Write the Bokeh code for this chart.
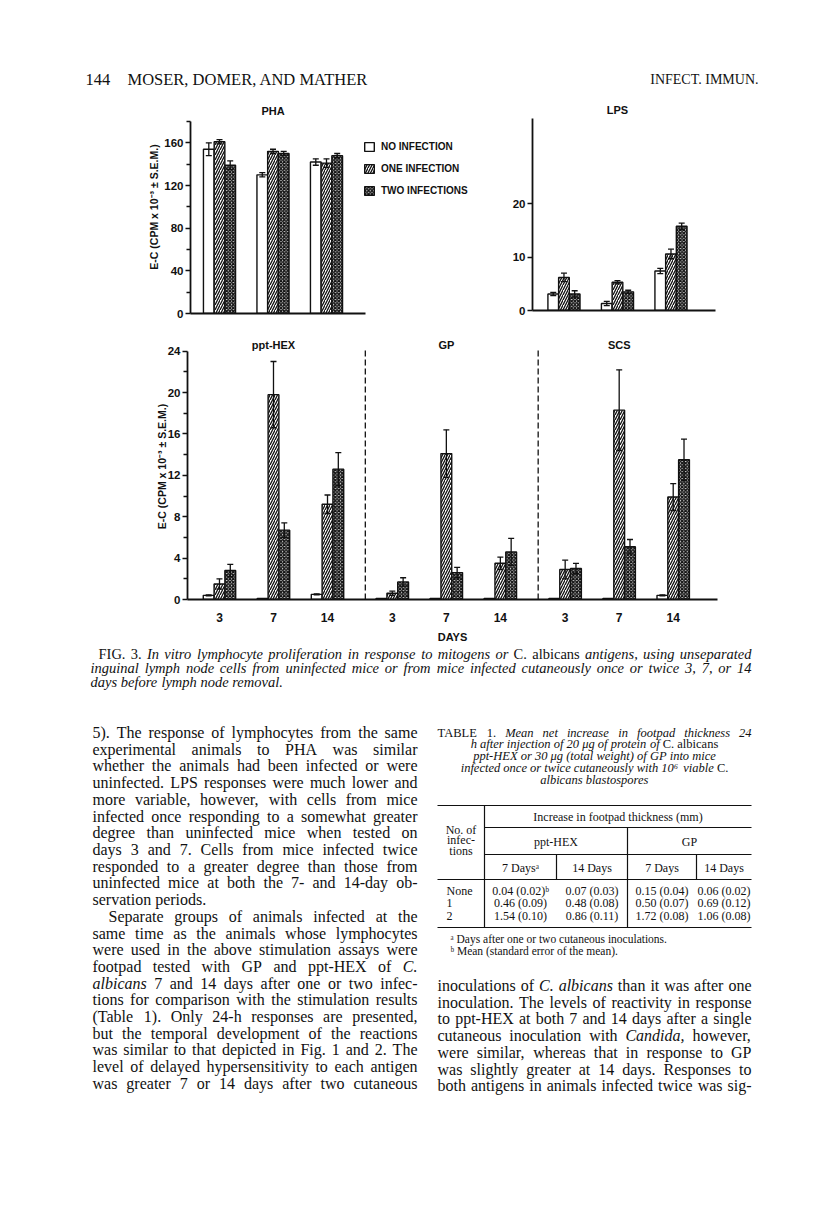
from bokeh.plotting import figure
from bokeh.layouts import column, row
from bokeh.models import (ColumnDataSource, Range1d, FixedTicker, Whisker, TeeHead,
                          Legend, LegendItem, Label)
from bokeh.core.properties import value
from bokeh.embed import file_html
from bokeh.resources import INLINE

# ---------------------------------------------------------------- data
SERIES = ["NO INFECTION", "ONE INFECTION", "TWO INFECTIONS"]
DAYS = ["3", "7", "14"]
ANTIGENS = ["ppt-HEX", "GP", "SCS"]

PHA_NONE = [154, 130, 142]
PHA_NONE_ERR = [6, 2, 3]
PHA_ONE = [161, 152, 141]
PHA_ONE_ERR = [2, 2, 4]
PHA_TWO = [139, 150, 148]
PHA_TWO_ERR = [4, 2, 2]

LPS_NONE = [3.1, 1.3, 7.4]
LPS_NONE_ERR = [0.3, 0.4, 0.5]
LPS_ONE = [6.2, 5.3, 10.6]
LPS_ONE_ERR = [0.8, 0.3, 0.9]
LPS_TWO = [3.1, 3.5, 15.8]
LPS_TWO_ERR = [0.6, 0.3, 0.6]

# antigens: ppt-HEX (3,7,14), GP (3,7,14), SCS (3,7,14)
AG_NONE = [0.4, 0.1, 0.5, 0.1, 0.1, 0.1, 0.1, 0.1, 0.4]
AG_NONE_ERR = [0.05, 0, 0.05, 0, 0, 0, 0, 0, 0.05]
AG_ONE = [1.5, 19.8, 9.2, 0.6, 14.1, 3.5, 2.9, 18.3, 9.9]
AG_ONE_ERR = [0.5, 3.2, 0.9, 0.2, 2.3, 0.6, 0.9, 3.9, 1.3]
AG_TWO = [2.8, 6.7, 12.6, 1.7, 2.6, 4.6, 3.0, 5.1, 13.5]
AG_TWO_ERR = [0.6, 0.7, 1.6, 0.4, 0.5, 1.3, 0.5, 0.7, 2.0]

PHA_YTICKS = [0, 40, 80, 120, 160]
PHA_YMINOR = [20, 60, 100, 140, 180]
PHA_YMAX = 180
LPS_YTICKS = [0, 10, 20]
LPS_YMAX = 36
AG_YTICKS = [0, 4, 8, 12, 16, 20, 24]
AG_YMINOR = [2, 6, 10, 14, 18, 22]
AG_YMAX = 24

YLABEL = "E-C (CPM x 10\u207b\u00b3 \u00b1 S.E.M.)"

HEADER_LEFT_NUM = "144"
HEADER_LEFT = "MOSER, DOMER, AND MATHER"
HEADER_RIGHT = "INFECT. IMMUN."

CAPTION = [
    "_FIG. _3. In vitro lymphocyte proliferation in response to mitogens or _C. _albicans antigens, using unseparated",
    "inguinal lymph node cells from uninfected mice or from mice infected cutaneously once or twice 3, 7, or 14",
    "days before lymph node removal.",
]

LEFT_COL = [
    ("5). The response of lymphocytes from the same", "j"),
    ("experimental animals to PHA was similar", "j"),
    ("whether the animals had been infected or were", "j"),
    ("uninfected. LPS responses were much lower and", "j"),
    ("more variable, however, with cells from mice", "j"),
    ("infected once responding to a somewhat greater", "j"),
    ("degree than uninfected mice when tested on", "j"),
    ("days 3 and 7. Cells from mice infected twice", "j"),
    ("responded to a greater degree than those from", "j"),
    ("uninfected mice at both the 7- and 14-day ob-", "j"),
    ("servation periods.", "l"),
    ("Separate groups of animals infected at the", "ji"),
    ("same time as the animals whose lymphocytes", "j"),
    ("were used in the above stimulation assays were", "j"),
    ("footpad tested with GP and ppt-HEX of _C.", "j"),
    ("_albicans 7 and 14 days after one or two infec-", "j"),
    ("tions for comparison with the stimulation results", "j"),
    ("(Table 1). Only 24-h responses are presented,", "j"),
    ("but the temporal development of the reactions", "j"),
    ("was similar to that depicted in Fig. 1 and 2. The", "j"),
    ("level of delayed hypersensitivity to each antigen", "j"),
    ("was greater 7 or 14 days after two cutaneous", "j"),
]

RIGHT_COL = [
    ("inoculations of _C. _albicans than it was after one", "j"),
    ("inoculation. The levels of reactivity in response", "j"),
    ("to ppt-HEX at both 7 and 14 days after a single", "j"),
    ("cutaneous inoculation with _Candida, however,", "j"),
    ("were similar, whereas that in response to GP", "j"),
    ("was slightly greater at 14 days. Responses to", "j"),
    ("both antigens in animals infected twice was sig-", "j"),
]

TABLE_TITLE = [
    ("_TABLE _1. Mean net increase in footpad thickness 24", "j"),
    ("h after injection of 20 \u03bcg of protein of _C. _albicans", "c"),
    ("ppt-HEX or 30 \u03bcg (total weight) of GP into mice", "c"),
    ("infected once or twice cutaneously with 10\u2076 viable _C.", "c"),
    ("albicans blastospores", "c"),
]
TABLE_SPAN_HEAD = "Increase in footpad thickness (mm)"
TABLE_ROW_HEAD = ["No. of", "infec-", "tions"]
TABLE_GROUPS = ["ppt-HEX", "GP"]
TABLE_COLS = ["7 Days\u1d43", "14 Days", "7 Days", "14 Days"]
TABLE_ROWS = ["None", "1", "2"]
TABLE_VALUES = [
    ["0.04 (0.02)\u1d47", "0.07 (0.03)", "0.15 (0.04)", "0.06 (0.02)"],
    ["0.46 (0.09)", "0.48 (0.08)", "0.50 (0.07)", "0.69 (0.12)"],
    ["1.54 (0.10)", "0.86 (0.11)", "1.72 (0.08)", "1.06 (0.08)"],
]
TABLE_NOTES = ["\u1d43 Days after one or two cutaneous inoculations.",
               "\u1d47 Mean (standard error of the mean)."]

# ---------------------------------------------------------------- styles
SANS = "Liberation Sans"
SERIF = "Liberation Serif"
INK = "#111111"
STYLE = {
    "NO INFECTION": dict(fill_color="white"),
    "ONE INFECTION": dict(fill_color="white", hatch_pattern="/", hatch_scale=5,
                          hatch_weight=1.3, hatch_color=INK),
    "TWO INFECTIONS": dict(fill_color="#dddddd", hatch_pattern="x", hatch_scale=3.4,
                           hatch_weight=1.4, hatch_color=INK),
}
SPACING = 5      # axis units between days
GROUP_GAP = 1    # extra units between antigen groups
BAR_W = 1
PAGE_W = 810


def make_fig(w, h, xr, yr, bl, br, bt, bb):
    p = figure(width=w, height=h, x_range=Range1d(*xr), y_range=Range1d(*yr),
               output_backend="svg", toolbar_location=None, frame_align=False,
               min_border_left=bl, min_border_right=br, min_border_top=bt, min_border_bottom=bb,
               background_fill_color="white", border_fill_color="white")
    p.outline_line_color = None
    p.grid.visible = False
    return p


def style_axes(p, yt, ym, ybounds, xbounds, xticks=None, xlabels=None, ylabel=None,
               xlabel=None, ylabel_standoff=1, label_font="11.5px"):
    ya = p.yaxis[0]
    ya.ticker = FixedTicker(ticks=yt, minor_ticks=ym)
    ya.bounds = ybounds
    ya.axis_line_width = 1.8
    ya.axis_line_color = INK
    ya.major_tick_line_width = 1.5
    ya.minor_tick_line_width = 1.3
    ya.major_tick_line_color = INK
    ya.minor_tick_line_color = INK
    ya.major_tick_out = 5
    ya.major_tick_in = 0
    ya.minor_tick_out = 4
    ya.minor_tick_in = 0
    ya.major_label_text_font = SANS
    ya.major_label_text_font_style = "bold"
    ya.major_label_text_font_size = label_font
    ya.major_label_text_color = INK
    ya.major_label_standoff = 2
    if ylabel:
        ya.axis_label = ylabel
        ya.axis_label_text_font = SANS
        ya.axis_label_text_font_style = "bold"
        ya.axis_label_text_font_size = "10.5px"
        ya.axis_label_text_color = INK
        ya.axis_label_standoff = ylabel_standoff
    xa = p.xaxis[0]
    xa.bounds = xbounds
    xa.axis_line_width = 1.8
    xa.axis_line_color = INK
    xa.major_tick_line_color = None
    xa.minor_tick_line_color = None
    if xticks is None:
        xa.ticker = FixedTicker(ticks=[])
        xa.major_label_text_font_size = "0px"
        xa.major_label_standoff = 0
    else:
        xa.ticker = FixedTicker(ticks=xticks, minor_ticks=[])
        xa.major_label_overrides = {t: l for t, l in zip(xticks, xlabels)}
        xa.major_label_text_font = SANS
        xa.major_label_text_font_style = "bold"
        xa.major_label_text_font_size = "12px"
        xa.major_label_text_color = INK
        xa.major_label_standoff = 7
    if xlabel:
        xa.axis_label = xlabel
        xa.axis_label_text_font = SANS
        xa.axis_label_text_font_style = "bold"
        xa.axis_label_text_font_size = "11px"
        xa.axis_label_text_color = INK
        xa.axis_label_standoff = 6


def draw_bars(p, centers, vals, errs):
    rends = []
    for k, name in enumerate(SERIES):
        off = (k - 1) * BAR_W
        xs = [c + off for c in centers]
        src = ColumnDataSource(dict(x=xs, top=vals[k]))
        r = p.vbar(x="x", top="top", bottom=0, width=BAR_W, source=src,
                   line_color=INK, line_width=1.4, **STYLE[name])
        rends.append(r)
        ex = [(x, v - e, v + e) for x, v, e in zip(xs, vals[k], errs[k]) if e > 0]
        if ex:
            esrc = ColumnDataSource(dict(x=[a for a, _, _ in ex], lo=[b for _, b, _ in ex],
                                         hi=[c for _, _, c in ex]))
            w = Whisker(base="x", lower="lo", upper="hi", source=esrc, dimension="height",
                        line_color=INK, line_width=1.3, level="annotation",
                        upper_head=TeeHead(size=6, line_width=1.3, line_color=INK),
                        lower_head=TeeHead(size=6, line_width=1.3, line_color=INK))
            p.add_layout(w)
    return rends


def title_label(p, x, y, text, dy):
    p.add_layout(Label(x=x, y=y, y_offset=dy, text=text, text_align="center",
                       text_baseline="middle", text_font=SANS, text_font_style="bold",
                       text_font_size="11px", text_color=INK))


# ---------------------------------------------------------------- PHA panel  (page y 95..325)
day_pos = [i * SPACING for i in range(len(DAYS))]
pha_x0, pha_x1 = -2.71, 13.64
pha = make_fig(498, 230, (pha_x0, pha_x0 + 300 / 10.7), (0, PHA_YMAX * 213 / 192), 190, 8, 5, 12)
style_axes(pha, PHA_YTICKS, PHA_YMINOR, (0, PHA_YMAX), (pha_x0, pha_x1), ylabel=YLABEL,
           ylabel_standoff=1)
pha_r = draw_bars(pha, day_pos, [PHA_NONE, PHA_ONE, PHA_TWO],
                  [PHA_NONE_ERR, PHA_ONE_ERR, PHA_TWO_ERR])
title_label(pha, day_pos[1], PHA_YMAX, "PHA", 11)
legend = Legend(items=[LegendItem(label=s, renderers=[r]) for s, r in zip(SERIES, pha_r)],
                location=(173, 117), glyph_width=12, glyph_height=11, label_height=11,
                label_width=10, spacing=11, padding=0, margin=0, border_line_color=None,
                background_fill_alpha=0, label_text_font=SANS, label_text_font_style="bold",
                label_text_font_size="10px", label_text_color=INK, label_standoff=6)
pha.add_layout(legend)

# ---------------------------------------------------------------- LPS panel
lps_x0, lps_x1 = -2.94, 14.16
lps = make_fig(PAGE_W - 498, 230, (lps_x0, lps_x1), (0, LPS_YMAX * 210 / 192), 34,
               PAGE_W - 498 - 34 - 183, 5, 15)
style_axes(lps, LPS_YTICKS, [], (0, LPS_YMAX), (lps_x0, lps_x1))
draw_bars(lps, day_pos, [LPS_NONE, LPS_ONE, LPS_TWO], [LPS_NONE_ERR, LPS_ONE_ERR, LPS_TWO_ERR])
title_label(lps, day_pos[1], LPS_YMAX, "LPS", 9)

# ---------------------------------------------------------------- antigen panel (page y 325..645)
ag_pos = [g * (len(DAYS) * SPACING + GROUP_GAP) + d * SPACING
          for g in range(len(ANTIGENS)) for d in range(len(DAYS))]
ag_x0, ag_x1 = -2.96, 46.1
ag = make_fig(PAGE_W, 320, (ag_x0, ag_x1), (0, AG_YMAX * 271 / 253), 187, PAGE_W - 187 - 530, 8, 41)
style_axes(ag, AG_YTICKS, AG_YMINOR, (0, AG_YMAX), (ag_x0, ag_x1), xticks=ag_pos,
           xlabels=DAYS * len(ANTIGENS), ylabel=YLABEL, xlabel="DAYS", ylabel_standoff=-3)
draw_bars(ag, ag_pos, [AG_NONE, AG_ONE, AG_TWO], [AG_NONE_ERR, AG_ONE_ERR, AG_TWO_ERR])
sep_x = [ag_pos[3 * g] - SPACING / 2 for g in range(1, len(ANTIGENS))]
ag.segment(x0=sep_x, x1=sep_x, y0=[0] * len(sep_x), y1=[AG_YMAX * 1.012] * len(sep_x),
           line_color=INK, line_width=1.3, line_dash="6 3")
for g, name in enumerate(ANTIGENS):
    title_label(ag, ag_pos[3 * g + 1], AG_YMAX, name, 6)

# ---------------------------------------------------------------- text typesetting
R_UP = [722, 667, 667, 722, 611, 556, 722, 722, 333, 389, 722, 611, 889, 722, 722, 556, 722, 667, 556, 611, 722, 722, 944, 722, 722, 611]
R_LO = [444, 500, 444, 500, 444, 333, 500, 500, 278, 278, 500, 278, 778, 500, 500, 500, 500, 333, 389, 278, 500, 500, 722, 500, 500, 444]
I_UP = [611, 611, 667, 722, 611, 611, 722, 722, 333, 444, 667, 556, 833, 667, 722, 611, 722, 611, 500, 556, 722, 611, 833, 611, 556, 556]
I_LO = [500, 500, 444, 500, 444, 278, 500, 500, 278, 278, 444, 278, 722, 500, 500, 500, 500, 389, 389, 278, 500, 444, 667, 444, 444, 389]
PUNCT = {" ": 250, ".": 250, ",": 250, ":": 278, ";": 278, "(": 333, ")": 333, "-": 333,
         "'": 333, "\u03bc": 500, "\u00b1": 564, "\u2076": 300, "\u1d43": 300, "\u1d47": 300}


def char_w(c, it):
    if "A" <= c <= "Z":
        return (I_UP if it else R_UP)[ord(c) - 65]
    if "a" <= c <= "z":
        return (I_LO if it else R_LO)[ord(c) - 97]
    if c.isdigit():
        return 500
    return PUNCT.get(c, 500)


def text_w(s, it, size):
    return sum(char_w(c, it) for c in s) / 1000.0 * size


class Page:
    def __init__(self):
        self.store = {}

    def put(self, x, y, s, size, italic=False, align="left"):
        key = ("italic" if italic else "normal", size, align)
        d = self.store.setdefault(key, {"x": [], "y": [], "text": []})
        d["x"].append(x)
        d["y"].append(y)
        d["text"].append(s)

    def line(self, s, x0, x1, y, size, mode="j", italic=False, indent=0):
        toks = []
        for w in s.split():
            flip = w.startswith("_")
            t = w[1:] if flip else w
            toks.append((t, italic != flip))
        x0 = x0 + indent
        widths = [text_w(t, it, size) for t, it in toks]
        n = len(toks)
        if mode.startswith("j") and n > 1:
            gap = (x1 - x0 - sum(widths)) / (n - 1)
            x = x0
        else:
            gap = 0.25 * size
            total = sum(widths) + gap * (n - 1)
            x = {"l": x0, "c": (x0 + x1) / 2 - total / 2, "r": x1 - total}[mode[0]]
        for (t, it), w in zip(toks, widths):
            self.put(x, y, t, size, it)
            x += w + gap

    def render(self, p):
        for (style, size, align), d in self.store.items():
            p.text(x="x", y="y", text="text", source=ColumnDataSource(d),
                   text_font=value(SERIF), text_font_style=value(style),
                   text_font_size=value(f"{size}px"), text_align=value(align),
                   text_baseline=value("middle"), text_color=value(INK))


def text_fig(h, y0, y1):
    p = figure(width=PAGE_W, height=h, x_range=Range1d(0, PAGE_W), y_range=Range1d(y1, y0),
               x_axis_type=None, y_axis_type=None, output_backend="svg",
               toolbar_location=None, min_border=0, frame_align=False,
               background_fill_color="white", border_fill_color="white")
    p.outline_line_color = None
    p.grid.visible = False
    return p


# header (page y 0..95)
head = text_fig(95, 0, 95)
hp = Page()
hp.put(85, 79, HEADER_LEFT_NUM, 16.5)
hp.put(127, 79, HEADER_LEFT, 16.5)
hp.put(758, 79, HEADER_RIGHT, 14, align="right")
hp.render(head)

# body (page y 645..1210)
body = text_fig(565, 645, 1210)
bp = Page()
for i, s in enumerate(CAPTION):
    bp.line(s, 90, 751, 653 + 14 * i, 14.5, "j" if i < 2 else "l", italic=True,
            indent=8 if i == 0 else 0)
for i, (s, m) in enumerate(LEFT_COL):
    bp.line(s, 92, 417, 732 + 16.71 * i, 16, m, indent=16 if m == "ji" else 0)
for i, (s, m) in enumerate(RIGHT_COL):
    bp.line(s, 437, 751, 985 + 16.71 * i, 16, m)
for i, (s, m) in enumerate(TABLE_TITLE):
    bp.line(s, 437, 751, 732 + 11.8 * i, 12.5, m, italic=True)

# table geometry
T_X = [437, 484, 556, 627, 696, 751]
T_Y = [805, 827, 854, 879, 927]
seg = dict(x0=[], y0=[], x1=[], y1=[])


def add_seg(a, b, c, d):
    seg["x0"].append(a); seg["y0"].append(b); seg["x1"].append(c); seg["y1"].append(d)


add_seg(T_X[0], T_Y[0], T_X[5], T_Y[0])
add_seg(T_X[1], T_Y[1], T_X[5], T_Y[1])
add_seg(T_X[1], T_Y[2], T_X[5], T_Y[2])
add_seg(T_X[0], T_Y[3], T_X[5], T_Y[3])
add_seg(T_X[0], T_Y[4], T_X[5], T_Y[4])
add_seg(T_X[1], T_Y[0], T_X[1], T_Y[4])
add_seg(T_X[3], T_Y[1], T_X[3], T_Y[4])
add_seg(T_X[2], T_Y[2], T_X[2], T_Y[3])
add_seg(T_X[4], T_Y[2], T_X[4], T_Y[3])
body.segment(x0="x0", y0="y0", x1="x1", y1="y1", source=ColumnDataSource(seg),
             line_color=INK, line_width=1.2)

TS = 12
bp.put((T_X[1] + T_X[5]) / 2, 816, TABLE_SPAN_HEAD, TS, align="center")
for i, s in enumerate(TABLE_ROW_HEAD):
    bp.put((T_X[0] + T_X[1]) / 2, 829 + 10.5 * i, s, TS, align="center")
bp.put((T_X[1] + T_X[3]) / 2, 841, TABLE_GROUPS[0], TS, align="center")
bp.put((T_X[3] + T_X[5]) / 2, 841, TABLE_GROUPS[1], TS, align="center")
for j, s in enumerate(TABLE_COLS):
    bp.put((T_X[j + 1] + T_X[j + 2]) / 2, 867, s, TS, align="center")
for i, rlab in enumerate(TABLE_ROWS):
    y = 890 + 12.5 * i
    bp.put(446, y, rlab, TS)
    for j, s in enumerate(TABLE_VALUES[i]):
        bp.put((T_X[j + 1] + T_X[j + 2]) / 2, y, s, TS, align="center")
for i, s in enumerate(TABLE_NOTES):
    bp.put(450, 938 + 12.5 * i, s, 11.5)
bp.render(body)

page = column(head, row(pha, lps), ag, body)
open("out.html", "w").write(file_html(page, INLINE, "Fig. 3"))
